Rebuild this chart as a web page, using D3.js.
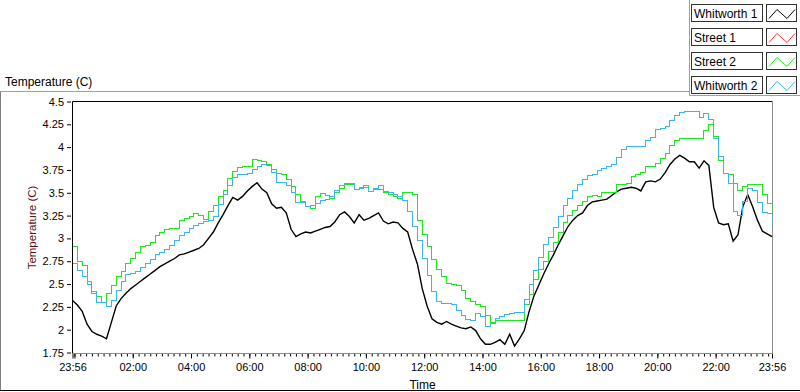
<!DOCTYPE html>
<html>
<head>
<meta charset="utf-8">
<title>Temperature (C)</title>
<style>
  body { margin: 0; background: #fff; }
  svg { display: block; font-family: "Liberation Sans", Arial, sans-serif; }
  .tick text { font-size: 11px; fill: #000; }
  .tick line { stroke: #000; }
</style>
</head>
<body>
<script src="https://d3js.org/d3.v7.min.js"></script>
<script>
// legend order = draw order
var seriesNames = ["Whitworth 1", "Street 1", "Street 2", "Whitworth 2"];
var seriesColors = ["#000000", "#ff3a3a", "#1ee61e", "#3cb4f0"];

// samples every 10 min from 23:56 to 23:56 next day
var startTime = "2000-01-01 23:56";
var stepMinutes = 10;

var whitworth1 = [
  2.32, 2.27, 2.20, 2.06, 1.98, 1.95, 1.93, 1.90, 2.08, 2.26,
  2.34, 2.40, 2.45, 2.49, 2.53, 2.57, 2.61, 2.65, 2.69, 2.72,
  2.75, 2.78, 2.82, 2.83, 2.85, 2.87, 2.89, 2.93, 3.00, 3.07,
  3.17, 3.26, 3.36, 3.45, 3.42, 3.46, 3.52, 3.57, 3.61, 3.54,
  3.50, 3.38, 3.33, 3.34, 3.28, 3.10, 3.02, 3.05, 3.07, 3.06,
  3.08, 3.10, 3.12, 3.13, 3.18, 3.26, 3.29, 3.24, 3.17, 3.26,
  3.20, 3.22, 3.25, 3.28, 3.19, 3.16, 3.18, 3.17, 3.11, 3.07,
  2.88, 2.72, 2.45, 2.26, 2.12, 2.08, 2.06, 2.09, 2.06, 2.04,
  2.02, 2.01, 2.03, 1.99, 1.90, 1.84, 1.84, 1.86, 1.89, 1.84,
  1.95, 1.82, 1.90, 1.99, 2.20, 2.37, 2.49, 2.61, 2.72, 2.82,
  2.93, 3.03, 3.13, 3.20, 3.25, 3.28, 3.36, 3.40, 3.41, 3.42,
  3.43, 3.47, 3.51, 3.54, 3.55, 3.56, 3.55, 3.52, 3.62, 3.63,
  3.62, 3.65, 3.72, 3.81, 3.87, 3.91, 3.88, 3.84, 3.84, 3.77,
  3.85, 3.80, 3.34, 3.17, 3.15, 3.16, 2.97, 3.04, 3.35, 3.48,
  3.35, 3.20, 3.08, 3.05, 3.02
];

// no Street 1 trace shows on the chart
var street1 = [];

var street2 = [
  2.91, 2.75, 2.70, 2.53, 2.40, 2.36, 2.30, 2.40, 2.48, 2.58,
  2.64, 2.73, 2.78, 2.85, 2.91, 2.92, 2.96, 3.03, 3.07, 3.10,
  3.11, 3.11, 3.20, 3.22, 3.24, 3.27, 3.25, 3.21, 3.30, 3.36,
  3.46, 3.53, 3.66, 3.73, 3.78, 3.79, 3.79, 3.86, 3.85, 3.84,
  3.81, 3.76, 3.71, 3.70, 3.64, 3.57, 3.48, 3.40, 3.35, 3.33,
  3.46, 3.49, 3.47, 3.44, 3.50, 3.55, 3.59, 3.59, 3.54, 3.56,
  3.58, 3.51, 3.54, 3.54, 3.50, 3.48, 3.46, 3.44, 3.50, 3.50,
  3.48, 3.20, 3.04, 2.91, 2.77, 2.66, 2.58, 2.51, 2.49, 2.48,
  2.43, 2.34, 2.31, 2.28, 2.25, 2.15, 2.08, 2.10, 2.10, 2.10,
  2.10, 2.10, 2.10, 2.28, 2.38, 2.55, 2.66, 2.75, 2.86, 2.96,
  3.06, 3.17, 3.25, 3.31, 3.36, 3.40, 3.46, 3.47, 3.46, 3.50,
  3.50, 3.50, 3.59, 3.59, 3.60, 3.68, 3.70, 3.72, 3.79, 3.79,
  3.82, 3.88, 3.93, 4.02, 4.07, 4.09, 4.10, 4.10, 4.10, 4.10,
  4.18, 4.25, 4.12, 3.85, 3.71, 3.70, 3.60, 3.52, 3.57, 3.59,
  3.59, 3.59, 3.48, 3.38, 3.32
];

var whitworth2 = [
  2.73, 2.65, 2.58, 2.50, 2.42, 2.30, 2.30, 2.25, 2.32, 2.43,
  2.53, 2.60, 2.62, 2.64, 2.68, 2.72, 2.77, 2.82, 2.85, 2.88,
  2.92, 2.98, 3.03, 3.07, 3.11, 3.14, 3.16, 3.18, 3.20, 3.24,
  3.37, 3.48, 3.58, 3.67, 3.70, 3.70, 3.71, 3.75, 3.79, 3.81,
  3.80, 3.72, 3.61, 3.61, 3.58, 3.50, 3.39, 3.39, 3.35, 3.36,
  3.38, 3.41, 3.43, 3.46, 3.52, 3.58, 3.60, 3.60, 3.54, 3.55,
  3.56, 3.51, 3.55, 3.58, 3.51, 3.50, 3.48, 3.46, 3.42, 3.30,
  3.13, 2.98, 2.78, 2.59, 2.42, 2.31, 2.29, 2.29, 2.28, 2.21,
  2.15, 2.11, 2.10, 2.18, 2.14, 2.04, 2.07, 2.12, 2.14, 2.17,
  2.18, 2.19, 2.19, 2.33, 2.50, 2.65, 2.79, 2.93, 3.01, 3.12,
  3.24, 3.36, 3.44, 3.53, 3.59, 3.64, 3.69, 3.70, 3.74, 3.77,
  3.79, 3.81, 3.89, 3.97, 4.01, 4.01, 4.01, 4.01, 4.07, 4.11,
  4.19, 4.20, 4.23, 4.29, 4.35, 4.38, 4.39, 4.39, 4.39, 4.32,
  4.37, 4.30, 4.10, 3.90, 3.71, 3.60, 3.30, 3.25, 3.40, 3.55,
  3.53, 3.39, 3.28, 3.27, 3.13
];

var yTicks = [1.75, 2, 2.25, 2.5, 2.75, 3, 3.25, 3.5, 3.75, 4, 4.25, 4.5];
var xTickLabels = ["23:56", "02:00", "04:00", "06:00", "08:00", "10:00", "12:00",
                   "14:00", "16:00", "18:00", "20:00", "22:00", "23:56"];

var allSeries = [whitworth1, street1, street2, whitworth2];

// plot box (pixel edges)
var plot = { left: 72.5, right: 772.5, top: 101.5, bottom: 353.5 };

var parseTime = d3.timeParse("%Y-%m-%d %H:%M");
var t0 = parseTime(startTime);
var tEnd = d3.timeMinute.offset(t0, 24 * 60);
function sampleTime(i) { return d3.timeMinute.offset(t0, i * stepMinutes); }

// label times: first is the start, last is the end, others are on the next day
var majorTimes = xTickLabels.map(function (s, i) {
  if (i == 0) return t0;
  if (i == xTickLabels.length - 1) return tEnd;
  return parseTime("2000-01-02 " + s);
});
var midnight = parseTime("2000-01-02 00:00");

var x = d3.scaleTime().domain([t0, tEnd]).range([plot.left, plot.right - 0.5]);
var y = d3.scaleLinear().domain([1.75, 4.5]).range([plot.bottom - 1, plot.top]);

var svg = d3.select("body").append("svg")
    .attr("width", 800)
    .attr("height", 392);

svg.append("rect").attr("width", 800).attr("height", 392).attr("fill", "#fff");

// chart frame
svg.append("line").attr("x1", 0).attr("x2", 689).attr("y1", 91.5).attr("y2", 91.5)
    .attr("stroke", "#a0a0a0");
svg.append("line").attr("x1", 0.5).attr("x2", 0.5).attr("y1", 91.5).attr("y2", 390)
    .attr("stroke", "#808080");
svg.append("line").attr("x1", 0).attr("x2", 800).attr("y1", 390.5).attr("y2", 390.5)
    .attr("stroke", "#000");

// chart label
svg.append("text")
    .attr("x", 5).attr("y", 86)
    .style("font-size", "12px")
    .text("Temperature (C)");

// plot area
svg.append("rect")
    .attr("x", plot.left).attr("y", plot.top)
    .attr("width", plot.right - plot.left).attr("height", plot.bottom - plot.top)
    .attr("fill", "#fff");

svg.append("defs").append("clipPath").attr("id", "clip")
  .append("rect")
    .attr("x", plot.left).attr("y", plot.top - 1)
    .attr("width", plot.right - plot.left).attr("height", plot.bottom - plot.top + 1);

// y axis
var yAxis = d3.axisLeft(y).tickValues(yTicks).tickSize(4).tickPadding(3)
    .tickFormat(function (d) { return String(d); });
svg.append("g")
    .attr("transform", "translate(" + (plot.left - 1.5) + ",0)")
    .call(yAxis)
    .call(function (g) { g.select(".domain").remove(); });

svg.append("text")
    .attr("transform", "translate(36," + ((plot.top + plot.bottom) / 2) + ") rotate(-90)")
    .style("text-anchor", "middle")
    .style("font-size", "11.5px")
    .attr("fill", "#5a1414")
    .text("Temperature (C)");

// x axis: minor ticks every 12 min, major ticks at the labels
var minorAxis = d3.axisBottom(x)
    .tickValues(d3.timeMinute.every(12).range(midnight, tEnd))
    .tickSize(3).tickFormat("");
svg.append("g")
    .attr("transform", "translate(0," + plot.bottom + ")")
    .call(minorAxis)
    .call(function (g) { g.select(".domain").remove(); });

var xAxis = d3.axisBottom(x)
    .tickValues(majorTimes.concat([midnight]))
    .tickSize(5).tickPadding(5)
    .tickFormat(function (d) {
      var i = majorTimes.findIndex(function (t) { return +t == +d; });
      return i < 0 ? "" : xTickLabels[i];
    });
svg.append("g")
    .attr("transform", "translate(0," + plot.bottom + ")")
    .call(xAxis)
    .call(function (g) { g.select(".domain").remove(); });

svg.append("text")
    .attr("x", (plot.left + plot.right) / 2).attr("y", 389)
    .style("text-anchor", "middle")
    .style("font-size", "12px")
    .text("Time");

// plot borders: top/left dark, bottom/right grey
svg.append("line").attr("x1", plot.left).attr("x2", plot.right).attr("y1", plot.top).attr("y2", plot.top)
    .attr("stroke", "#000");
svg.append("line").attr("x1", plot.left).attr("x2", plot.left).attr("y1", plot.top).attr("y2", plot.bottom)
    .attr("stroke", "#000");
svg.append("line").attr("x1", plot.left).attr("x2", plot.right).attr("y1", plot.bottom).attr("y2", plot.bottom)
    .attr("stroke", "#8c8c8c");
svg.append("line").attr("x1", plot.right).attr("x2", plot.right).attr("y1", plot.top).attr("y2", plot.bottom)
    .attr("stroke", "#8c8c8c");

// traces (logged steps for the street/whitworth 2 sensors)
var lines = svg.append("g").attr("clip-path", "url(#clip)");
allSeries.forEach(function (data, s) {
  if (!data.length) return;
  var stepped = s != 0;
  var line = d3.line()
      .x(function (d, i) { return x(sampleTime(i)); })
      .y(function (d) { return y(d); })
      .curve(stepped ? d3.curveStepAfter : d3.curveLinear);
  lines.append("path")
      .datum(data)
      .attr("fill", "none")
      .attr("stroke", seriesColors[s])
      .attr("stroke-width", stepped ? 1 : 1.4)
      .attr("shape-rendering", stepped ? "crispEdges" : "auto")
      .attr("d", line);
});

// legend panel
svg.append("line").attr("x1", 689.5).attr("x2", 689.5).attr("y1", 0).attr("y2", 95.5)
    .attr("stroke", "#a0a0a0");
svg.append("line").attr("x1", 689.5).attr("x2", 800).attr("y1", 95.5).attr("y2", 95.5)
    .attr("stroke", "#a0a0a0");

var legend = svg.selectAll(".legend")
    .data(seriesNames)
    .enter().append("g")
    .attr("class", "legend")
    .attr("transform", function (d, i) { return "translate(0," + (4.5 + i * 24) + ")"; });

legend.append("rect")
    .attr("x", 691.5).attr("width", 71).attr("height", 17)
    .attr("fill", "#fff").attr("stroke", "#333");
legend.append("text")
    .attr("x", 694).attr("y", 13)
    .style("font-size", "12px")
    .text(function (d) { return d; });
legend.append("rect")
    .attr("x", 766.5).attr("width", 30).attr("height", 17)
    .attr("fill", "#fff").attr("stroke", "#333");
legend.append("polyline")
    .attr("points", "769,14 777,5 787,14 795,5")
    .attr("fill", "none")
    .attr("stroke", function (d, i) { return seriesColors[i]; });
</script>
</body>
</html>
